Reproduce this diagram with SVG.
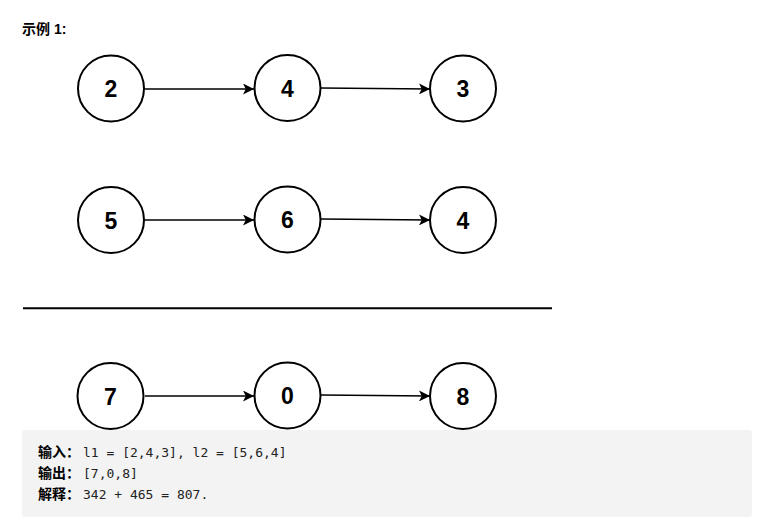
<svg xmlns="http://www.w3.org/2000/svg" width="770" height="529" viewBox="0 0 770 529">
<style>
.n circle{fill:#fff;stroke:#000;stroke-width:2}
.n text{font-family:"Liberation Sans",Arial,sans-serif;font-weight:bold;font-size:23px;fill:#000;text-anchor:middle}
.e{stroke:#000;stroke-width:1.6;fill:none}
.cn{font-family:"Liberation Sans","Noto Sans CJK SC",sans-serif;font-weight:bold;font-size:14px;fill:#000}
.mono{font-family:"DejaVu Sans Mono","Liberation Mono",monospace;font-size:13px;fill:#222}
</style>
<defs>
<marker id="ah" viewBox="0 0 10 10" refX="10" refY="5" markerWidth="11" markerHeight="11" markerUnits="userSpaceOnUse" orient="auto">
<path d="M0,0 L10,5 L0,10 L2.5,5 Z" fill="#000"/>
</marker>
</defs>
<rect width="770" height="529" fill="#fff"/>
<text class="cn" x="22" y="34" font-size="14.5">示例 1:</text>
<g id="connectors">
<line class="e" x1="145" y1="89" x2="254" y2="89" marker-end="url(#ah)"/>
<line class="e" x1="321" y1="88" x2="430" y2="89" marker-end="url(#ah)"/>
<line class="e" x1="145" y1="220" x2="254" y2="220" marker-end="url(#ah)"/>
<line class="e" x1="321" y1="219" x2="430" y2="220" marker-end="url(#ah)"/>
<line class="e" x1="145" y1="396" x2="254" y2="396" marker-end="url(#ah)"/>
<line class="e" x1="321" y1="395" x2="430" y2="396" marker-end="url(#ah)"/>
</g>
<g id="n2" class="n"><circle cx="111" cy="88.5" r="33"/><text x="111" y="97">2</text></g>
<g id="n4a" class="n"><circle cx="287.5" cy="88" r="33"/><text x="287.5" y="96.5">4</text></g>
<g id="n3" class="n"><circle cx="463" cy="88.5" r="33"/><text x="463" y="97">3</text></g>
<g id="n5" class="n"><circle cx="111" cy="220" r="33"/><text x="111" y="228.5">5</text></g>
<g id="n6" class="n"><circle cx="287.5" cy="219.5" r="33"/><text x="287.5" y="228">6</text></g>
<g id="n4b" class="n"><circle cx="463" cy="220" r="33"/><text x="463" y="228.5">4</text></g>
<line x1="23" y1="308.3" x2="552" y2="308.3" stroke="#000" stroke-width="2"/>
<g id="n7" class="n"><circle cx="110.5" cy="396" r="33"/><text x="110.5" y="404.5">7</text></g>
<g id="n0" class="n"><circle cx="287.5" cy="395.5" r="33"/><text x="287.5" y="404">0</text></g>
<g id="n8" class="n"><circle cx="463" cy="396" r="33"/><text x="463" y="404.5">8</text></g>
<rect x="22" y="430" width="730" height="87" rx="3" fill="#f3f3f3"/>
<text x="38" y="457"><tspan class="cn">输入：</tspan><tspan class="mono" dx="3">l1 = [2,4,3], l2 = [5,6,4]</tspan></text>
<text x="38" y="478"><tspan class="cn">输出：</tspan><tspan class="mono" dx="3">[7,0,8]</tspan></text>
<text x="38" y="499"><tspan class="cn">解释：</tspan><tspan class="mono" dx="3">342 + 465 = 807.</tspan></text>
</svg>
